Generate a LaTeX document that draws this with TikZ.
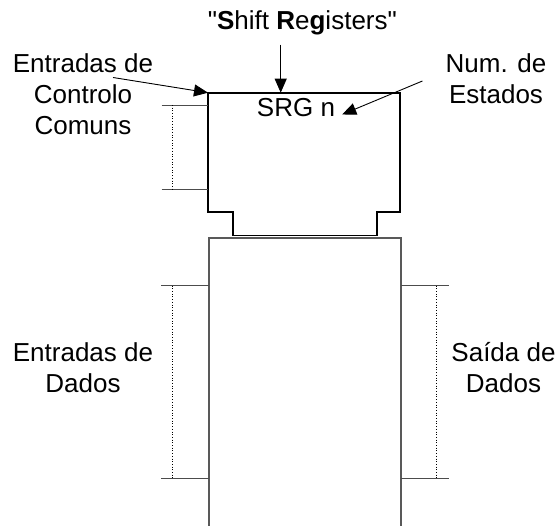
\documentclass[tikz,border=0pt]{standalone}
\usepackage{fontspec}
\setmainfont{Liberation Sans}[Ligatures=TeXOff]
\usetikzlibrary{arrows.meta,positioning}

\begin{document}
\begin{tikzpicture}[x=1pt,y=-1pt,every node/.style={font=\fontsize{26}{31}\selectfont,inner sep=0pt,align=center},
	ptr/.style={-{Triangle[length=14pt,width=12pt]},line width=0.9pt},
	tick/.style={line width=0.9pt,black!70},
	span/.style={dotted,line width=0.7pt}]
	\useasboundingbox (0,0) rectangle (559,526);
	\draw[line width=1.2pt,black!65] (209,526) -- (209,238) -- (401,238) -- (401,526);
	\draw[line width=1.8pt] (208,92.7) -- (400,92.7) -- (400,212.3) -- (377.3,212.3) -- (377.3,235.5) -- (232.7,235.5) -- (232.7,212.3) -- (208,212.3) -- cycle;
	\coordinate (ctl) at (208,92.7);
	\coordinate (top) at (280.7,92.7);
	\node[anchor=base west] (title) at (207.7,30) {"\textbf{S}hift \textbf{R}e\textbf{g}isters"};
	\node[anchor=base] (srg) at (296,117) {SRG n};
	\node (ctlin) at (83,94.5) {Entradas de\\Controlo\\Comuns};
	\node (states) at (496,78.5) {Num. de\\Estados};
	\node (datain) at (83,368) {Entradas de\\Dados};
	\node (dataout) at (503.5,368) {Saída de\\Dados};
	\draw[ptr,shorten <=9pt] (title.south -| top) -- (top);
	\draw[ptr] ([shift={(30,-17)}]ctlin.center) -- (ctl);
	\draw[ptr] ([shift={(-23,2.5)}]states.west) -- ([shift={(7,-3)}]srg.south east);
	\draw[tick] (161.7,105) -- (208,105) (161.7,189.3) -- (208,189.3);
	\draw[span] (172.3,105) -- (172.3,189.3);
	\draw[tick] (161,285.7) -- (209,285.7) (161,478.3) -- (209,478.3);
	\draw[span] (172.7,285.7) -- (172.7,478.3);
	\draw[tick] (401,285.7) -- (449,285.7) (401,478.3) -- (449,478.3);
	\draw[span] (436.3,285.7) -- (436.3,478.3);
\end{tikzpicture}
\end{document}
